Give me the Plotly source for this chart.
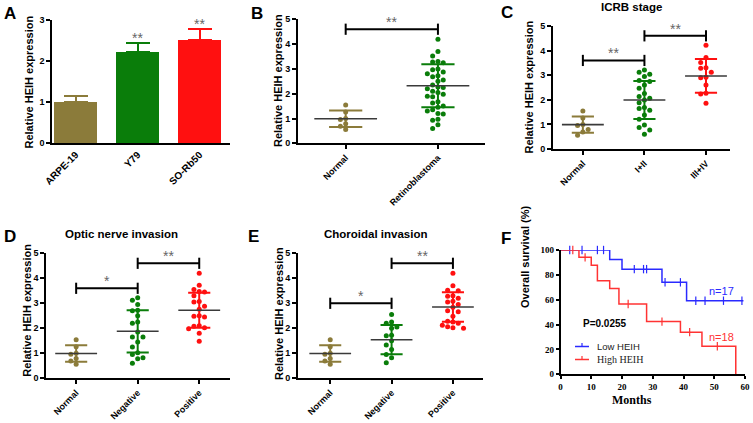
import plotly.graph_objects as go

W, H = 753, 423

# ---------------- data ----------------
a_cats = ["ARPE-19", "Y79", "SO-Rb50"]
a_vals = [1.0, 2.21, 2.52]
a_errs = [0.15, 0.22, 0.25]
a_stars = ["", "**", "**"]

normal_vals = [1.54, 1.26, 1.00, 0.96, 0.79, 0.69, 0.56]
normal_mean = 0.99
normal_sd = 0.33

b_cats = ["Normal", "Retinoblastoma"]
retino_vals = [4.2, 3.7, 3.52, 3.3, 3.28, 3.25, 3.0, 2.97, 2.88, 2.8, 2.72, 2.68,
               2.55, 2.5, 2.35, 2.27, 2.25, 2.2, 2.1, 2.05, 1.98, 1.9, 1.88, 1.68,
               1.62, 1.5, 1.45, 1.35, 1.3, 1.2, 1.18, 0.97, 0.93, 0.75, 0.6]
b_means = [normal_mean, 2.32]
b_sds = [normal_sd, 0.87]
b_sig_from = [0]
b_sig_to = [1]
b_sig_y = [4.6]
b_sig_text = ["**"]

c_title = "ICRB stage"
c_cats = ["Normal", "I+II", "III+IV"]
c_i_ii = [3.21, 3.12, 3.04, 2.95, 2.78, 2.74, 2.6, 2.47, 2.26, 2.13, 2.06, 1.99,
          1.88, 1.69, 1.65, 1.58, 1.38, 1.21, 0.98, 0.87, 0.77, 0.6]
c_iii_iv = [4.22, 3.72, 3.52, 3.3, 3.28, 3.12, 2.92, 2.9, 2.6, 2.27, 2.24, 1.86]
c_means = [normal_mean, 1.99, 2.97]
c_sds = [normal_sd, 0.77, 0.685]
c_sig_from = [0, 1]
c_sig_to = [1, 2]
c_sig_y = [3.6, 4.6]
c_sig_text = ["**", "**"]

d_title = "Optic nerve invasion"
d_cats = ["Normal", "Negative", "Positive"]
d_neg = [3.22, 3.12, 2.95, 2.72, 2.7, 2.5, 2.25, 2.2, 1.85, 1.65, 1.65, 1.45,
         1.25, 1.02, 0.95, 0.82, 0.78, 0.6]
d_pos = [4.2, 3.72, 3.55, 3.47, 3.45, 3.3, 3.07, 3.05, 2.88, 2.76, 2.5, 2.48,
         2.45, 2.1, 2.08, 2.02, 1.98, 1.8, 1.48]
d_means = [normal_mean, 1.88, 2.72]
d_sds = [normal_sd, 0.845, 0.70]
d_sig_from = [0, 1]
d_sig_to = [1, 2]
d_sig_y = [3.6, 4.6]
d_sig_text = ["*", "**"]

e_title = "Choroidal invasion"
e_cats = ["Normal", "Negative", "Positive"]
e_neg = [2.55, 2.25, 2.2, 2.05, 2.0, 1.72, 1.7, 1.5, 1.33, 1.15, 0.95, 0.82, 0.62]
e_pos = [4.2, 3.7, 3.52, 3.5, 3.3, 3.28, 3.2, 3.08, 3.05, 2.95, 2.84, 2.7, 2.66,
         2.48, 2.28, 2.25, 2.2, 2.12, 2.06, 2.02, 2.0]
e_means = [normal_mean, 1.545, 2.85]
e_sds = [normal_sd, 0.585, 0.59]
e_sig_from = [0, 1]
e_sig_to = [1, 2]
e_sig_y = [3.0, 4.6]
e_sig_text = ["*", "**"]

# Kaplan-Meier (months, % survival)
km_names = ["Low HEIH", "High HEIH"]
low_times = [0, 16, 20, 33, 41, 59.5]
low_surv = [100, 92.3, 84.6, 74.0, 59.2, 59.2]
low_censor = [3, 7, 12, 14, 24, 27, 28, 34, 39, 44, 47, 53, 59]
high_times = [0, 6, 10, 12, 16, 19, 28, 39, 46, 57]
high_surv = [100, 94.1, 87.8, 75.3, 69.0, 56.5, 42.4, 33.9, 22.6, 0]
high_censor = [4, 8, 22, 33, 42, 51]
f_xticks = [0, 10, 20, 30, 40, 50, 60]
f_yticks = [0, 20, 40, 60, 80, 100]

# ---------------- styling ----------------
OLIVE = "#8B7B3A"
GREEN = "#0A7D0A"
RED = "#FF1010"
BLUE = "#2A2AFF"
KRED = "#FF3333"
SANS = "Liberation Sans, Arial, sans-serif"
SERIF = "Liberation Serif, Times New Roman, serif"


def px2x(p):
    return p / W


def px2y(p):
    return 1 - p / H


fig = go.Figure()

axis_base = dict(showline=True, linecolor="black", linewidth=1.5, ticks="outside",
                 ticklen=4, tickwidth=1.5, tickcolor="black", showgrid=False,
                 zeroline=False, fixedrange=True, automargin=False,
                 tickfont=dict(family=SANS, size=9, color="black", weight="bold"))

# panel geometry (pixels)
panels = {
    1: dict(xpx=(52, 230), ypx=(20, 143.3), xr=(-0.38, 2.49), yr=(0, 3)),
    2: dict(xpx=(297.7, 485), ypx=(19.3, 143.3), xr=(-0.52, 1.51), yr=(0, 5)),
    3: dict(xpx=(552.7, 730), ypx=(26, 149), xr=(-0.49, 2.39), yr=(0, 5)),
    4: dict(xpx=(46, 230), ypx=(253.3, 378.3), xr=(-0.49, 2.5), yr=(0, 5)),
    5: dict(xpx=(297.7, 483), ypx=(253.3, 378.3), xr=(-0.53, 2.49), yr=(0, 5)),
    6: dict(xpx=(560.5, 745), ypx=(250, 374.3), xr=(0, 60), yr=(0, 100)),
}

layout_axes = {}
for k, p in panels.items():
    xn = "xaxis" if k == 1 else f"xaxis{k}"
    yn = "yaxis" if k == 1 else f"yaxis{k}"
    ax = dict(axis_base)
    ax.update(domain=[px2x(p["xpx"][0]), px2x(p["xpx"][1])], range=list(p["xr"]),
              anchor="y" if k == 1 else f"y{k}")
    ay = dict(axis_base)
    ay.update(domain=[px2y(p["ypx"][1]), px2y(p["ypx"][0])], range=list(p["yr"]),
              anchor="x" if k == 1 else f"x{k}")
    layout_axes[xn] = ax
    layout_axes[yn] = ay


def refs(k):
    return ("x" if k == 1 else f"x{k}"), ("y" if k == 1 else f"y{k}")


def swarm(vals, xscale, yscale, diam=5.3):
    order = sorted(range(len(vals)), key=lambda i: -vals[i])
    placed = []
    offs = [0.0] * len(vals)
    cands = [0]
    for m in range(1, 12):
        cands += [-m, m]
    for i in order:
        ypx = vals[i] * yscale
        xpx = 0
        for c in cands:
            xpx = c * diam
            if all((xpx - qx) ** 2 + (ypx - qy) ** 2 >= (diam * 0.98) ** 2 for qx, qy in placed):
                break
        placed.append((xpx, ypx))
        offs[i] = xpx / xscale
    return offs


annotations = []
shapes = []

# ---------------- Panel A: bars ----------------
xa, ya = refs(1)
for i, (cat, v, e, col) in enumerate(zip(a_cats, a_vals, a_errs, [OLIVE, GREEN, RED])):
    fig.add_trace(go.Bar(x=[i], y=[v], width=0.69, marker=dict(color=col, line=dict(width=0)),
                         error_y=dict(type="data", symmetric=False, array=[e], arrayminus=[0],
                                      color=col, thickness=2, width=12),
                         xaxis=xa, yaxis=ya, showlegend=False))
    if a_stars[i]:
        annotations.append(dict(x=i, y=v + e, xref=xa, yref=ya, text=a_stars[i], showarrow=False,
                                yanchor="bottom", yshift=-5, font=dict(family=SANS, size=14, color="#666")))
layout_axes["xaxis"].update(tickvals=list(range(len(a_cats))), ticktext=a_cats, tickangle=-45, ticks="",
                            tickfont=dict(family=SANS, size=10, color="black", weight="bold"))


# ---------------- dot panels ----------------
def dot_panel(k, cats, groups, means, sds, colors, sfrom, sto, sy, stext):
    xr_, yr_ = refs(k)
    p = panels[k]
    xscale = (p["xpx"][1] - p["xpx"][0]) / (p["xr"][1] - p["xr"][0])
    yscale = (p["ypx"][1] - p["ypx"][0]) / (p["yr"][1] - p["yr"][0])
    for i, (vals, col) in enumerate(zip(groups, colors)):
        offs = swarm(vals, xscale, yscale)
        fig.add_trace(go.Scatter(x=[i + o for o in offs], y=vals, mode="markers",
                                 marker=dict(size=5, color=col), xaxis=xr_, yaxis=yr_,
                                 showlegend=False, cliponaxis=False))
    for i, (m, s, col) in enumerate(zip(means, sds, colors)):
        fig.add_trace(go.Scatter(
            x=[i - 0.18, i + 0.18, None, i, i, None, i - 0.18, i + 0.18],
            y=[m + s, m + s, None, m + s, m - s, None, m - s, m - s],
            mode="lines", line=dict(color=col, width=2), xaxis=xr_, yaxis=yr_,
            showlegend=False, cliponaxis=False))
        fig.add_trace(go.Scatter(x=[i - 0.34, i + 0.34], y=[m, m], mode="lines",
                                 line=dict(color="#3a3a3a", width=1.6), xaxis=xr_, yaxis=yr_,
                                 showlegend=False, cliponaxis=False))
    for a, b, yy, t in zip(sfrom, sto, sy, stext):
        fig.add_trace(go.Scatter(x=[a, b], y=[yy, yy], mode="lines+markers",
                                 line=dict(color="black", width=2),
                                 marker=dict(symbol="line-ns", size=8,
                                             line=dict(width=2, color="black")),
                                 xaxis=xr_, yaxis=yr_, showlegend=False, cliponaxis=False))
        annotations.append(dict(x=(a + b) / 2, y=yy, xref=xr_, yref=yr_, text=t, showarrow=False,
                                yanchor="bottom", yshift=-3,
                                font=dict(family=SANS, size=14, color="#666")))
    xn = "xaxis" if k == 1 else f"xaxis{k}"
    layout_axes[xn].update(tickvals=list(range(len(cats))), ticktext=cats, tickangle=-45)
    yn = "yaxis" if k == 1 else f"yaxis{k}"
    layout_axes[yn].update(tickvals=[0, 1, 2, 3, 4, 5])


dot_panel(2, b_cats, [normal_vals, retino_vals], b_means, b_sds, [OLIVE, GREEN],
          b_sig_from, b_sig_to, b_sig_y, b_sig_text)
dot_panel(3, c_cats, [normal_vals, c_i_ii, c_iii_iv], c_means, c_sds, [OLIVE, GREEN, RED],
          c_sig_from, c_sig_to, c_sig_y, c_sig_text)
dot_panel(4, d_cats, [normal_vals, d_neg, d_pos], d_means, d_sds, [OLIVE, GREEN, RED],
          d_sig_from, d_sig_to, d_sig_y, d_sig_text)
dot_panel(5, e_cats, [normal_vals, e_neg, e_pos], e_means, e_sds, [OLIVE, GREEN, RED],
          e_sig_from, e_sig_to, e_sig_y, e_sig_text)
layout_axes["yaxis"].update(tickvals=[0, 1, 2, 3])

# ---------------- Panel F: Kaplan-Meier ----------------
xf, yf = refs(6)


def step_value(times, surv, t):
    v = surv[0]
    for tt, ss in zip(times, surv):
        if tt <= t:
            v = ss
    return v


for name, times, surv, cens, col in [(km_names[0], low_times, low_surv, low_censor, BLUE),
                                     (km_names[1], high_times, high_surv, high_censor, KRED)]:
    fig.add_trace(go.Scatter(x=times, y=surv, mode="lines", name=name,
                             line=dict(color=col, width=1.5, shape="hv"),
                             xaxis=xf, yaxis=yf, showlegend=False, cliponaxis=False))
    fig.add_trace(go.Scatter(x=cens, y=[step_value(times, surv, c) for c in cens], mode="markers",
                             marker=dict(symbol="line-ns", size=6, line=dict(width=1.2, color=col)),
                             xaxis=xf, yaxis=yf, showlegend=False, cliponaxis=False))

# legend keys (drawn small, GraphPad style)
for j, (name, col, fam) in enumerate([(km_names[0], BLUE, SANS), (km_names[1], KRED, SERIF)]):
    yk = 346.5 + 13 * j
    shapes.append(dict(type="line", xref="paper", yref="paper", x0=px2x(575), x1=px2x(589),
                       y0=px2y(yk), y1=px2y(yk), line=dict(color=col, width=1.5)))
    shapes.append(dict(type="line", xref="paper", yref="paper", x0=px2x(582), x1=px2x(582),
                       y0=px2y(yk), y1=px2y(yk - 3.5), line=dict(color=col, width=1.2)))
    annotations.append(dict(x=px2x(595), y=px2y(yk), xref="paper", yref="paper", text=name,
                            showarrow=False, xanchor="left", yanchor="middle",
                            font=dict(family=fam, size=9.5 if fam == SANS else 10, color="#222")))

serif_tick = dict(family=SERIF, size=9, color="black", weight="bold")
layout_axes["xaxis6"].update(tickvals=f_xticks, tickfont=serif_tick, ticklen=3)
layout_axes["yaxis6"].update(tickvals=f_yticks, tickfont=serif_tick, ticklen=3)

annotations += [
    dict(x=52.5, y=67, xref=xf, yref=yf, text="n=17", showarrow=False,
         font=dict(family=SANS, size=11, color=BLUE)),
    dict(x=52.5, y=30, xref=xf, yref=yf, text="n=18", showarrow=False,
         font=dict(family=SANS, size=11, color=KRED)),
    dict(x=14.6, y=40.5, xref=xf, yref=yf, text="<b>P=0.0255</b>", showarrow=False,
         font=dict(family=SANS, size=10, color="black")),
]

# ---------------- titles / labels ----------------
ytitle = "<b>Relative HEIH expression</b>"
for (xp, yp) in [(28.5, 82), (278, 81), (528, 87.5), (26.7, 310), (279, 314)]:
    annotations.append(dict(x=px2x(xp), y=px2y(yp), xref="paper", yref="paper", text=ytitle,
                            textangle=-90, showarrow=False, xanchor="center", yanchor="middle",
                            font=dict(family=SANS, size=11, color="black")))
annotations.append(dict(x=px2x(533), y=px2y(310), xref="paper", yref="paper",
                        text="<b>Overall survival (%)</b>", textangle=-90, showarrow=False,
                        font=dict(family=SANS, size=11, color="black")))
annotations.append(dict(x=px2x(654), y=px2y(399.5), xref="paper", yref="paper",
                        text="<b>Months</b>", showarrow=False, yanchor="middle",
                        font=dict(family=SERIF, size=12, color="black")))

for text, xp, yp in [(c_title, 631.7, 7), (d_title, 121.7, 234), (e_title, 376.3, 234)]:
    annotations.append(dict(x=px2x(xp), y=px2y(yp), xref="paper", yref="paper",
                            text=f"<b>{text}</b>", showarrow=False, xanchor="center",
                            yanchor="middle", font=dict(family=SANS, size=11.5, color="black")))

for letter, xp, yp in [("A", 2, 13), ("B", 249, 13), ("C", 499, 12), ("D", 2, 236),
                       ("E", 246, 236), ("F", 499, 238)]:
    annotations.append(dict(x=px2x(xp), y=px2y(yp), xref="paper", yref="paper",
                            text=f"<b>{letter}</b>", showarrow=False, xanchor="left",
                            yanchor="middle", font=dict(family=SANS, size=17, color="black")))

fig.update_layout(
    width=W, height=H, margin=dict(l=0, r=0, t=0, b=0, autoexpand=False),
    paper_bgcolor="white", plot_bgcolor="white",
    barmode="overlay", bargap=0,
    annotations=annotations, shapes=shapes,
    font=dict(family=SANS, color="black"),
    showlegend=False,
    **layout_axes,
)

fig.write_html("out.html", config={"displayModeBar": False},
               post_script="document.body.style.margin='0px';")
